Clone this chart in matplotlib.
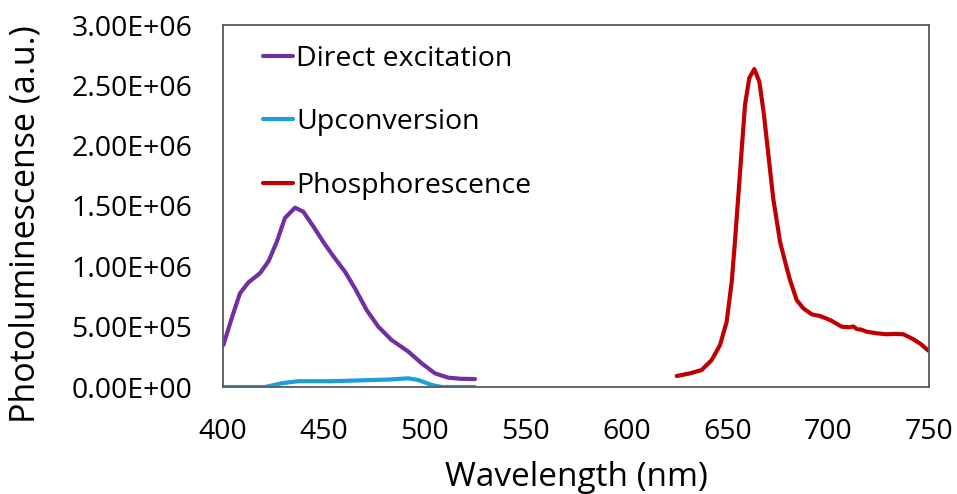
import matplotlib
matplotlib.use("Agg")
import matplotlib.pyplot as plt

plt.rcParams['font.family'] = ['Open Sans', 'DejaVu Sans']

direct_wl = [400.2, 404.3, 408.4, 412.6, 418.3, 422.5, 426.6, 430.7, 435.7, 439.8, 444.8, 450.6, 455.5, 460.5,
             465.4, 471.2, 477, 483.6, 491.9, 498.5, 505.1, 511.7, 518, 524.9]
direct_pl = [3.48e5, 5.69e5, 7.76e5, 8.67e5, 9.42e5, 1.04e6, 1.20e6, 1.40e6, 1.486e6, 1.453e6, 1.33e6, 1.18e6,
             1.066e6, 9.55e5, 8.18e5, 6.38e5, 5.0e5, 3.89e5, 2.93e5, 1.96e5, 1.13e5, 7.7e4, 6.8e4, 6.6e4]

up_wl = [400, 420.8, 429.1, 437.3, 453.9, 470.4, 482, 491.9, 496.8, 503.5, 508.4, 524.9]
up_pl = [0, 0, 3.1e4, 4.8e4, 4.8e4, 5.6e4, 6.2e4, 7.2e4, 5.8e4, 1.7e4, 0, 0]

phos_wl = [624.9, 631.5, 637.3, 642.3, 646.4, 649.7, 652.2, 653.8, 655.5, 657.2, 658.8, 660.9, 663.4, 665.9,
           668.2, 670.4, 672.8, 676.2, 679.5, 681.1, 684.4, 687.7, 691.9, 696, 701, 706.7, 710.5, 712.5,
           714.2, 716.5, 719.1, 724.1, 729, 733, 737.3, 742.3, 746, 749.7]
phos_pl = [9.1e4, 1.13e5, 1.41e5, 2.24e5, 3.48e5, 5.41e5, 8.73e5, 1.204e6, 1.59e6, 1.98e6, 2.34e6, 2.56e6,
           2.635e6, 2.53e6, 2.254e6, 1.92e6, 1.56e6, 1.20e6, 9.84e5, 8.87e5, 7.21e5, 6.52e5, 6.02e5, 5.88e5,
           5.55e5, 5.0e5, 4.95e5, 5.02e5, 4.8e5, 4.75e5, 4.58e5, 4.45e5, 4.37e5, 4.4e5, 4.37e5, 3.95e5,
           3.55e5, 3.01e5]

labels = ['Direct excitation', 'Upconversion', 'Phosphorescence']
colors = ['#7030A0', '#1C9FDC', '#C00000']
xticks = [400, 450, 500, 550, 600, 650, 700, 750]
yticks = [0, 5e5, 1e6, 1.5e6, 2e6, 2.5e6, 3e6]
ytick_labels = ['0.00E+00', '5.00E+05', '1.00E+06', '1.50E+06', '2.00E+06', '2.50E+06', '3.00E+06']

fig = plt.figure(figsize=(9.57, 4.94), dpi=100)
ax = fig.add_axes([223/957, 1-387/494, (929-223)/957, (387-25)/494])

for wl, pl, lab, c in zip([direct_wl, up_wl, phos_wl], [direct_pl, up_pl, phos_pl], labels, colors):
    ax.plot(wl, pl, color=c, lw=3, label=lab, solid_capstyle='round', solid_joinstyle='round')

ax.set_xlim(400, 750)
ax.set_ylim(0, 3e6)
ax.set_xticks(xticks)
ax.set_xticklabels([str(t) for t in xticks])
ax.set_yticks(yticks)
ax.set_yticklabels(ytick_labels)
ax.tick_params(length=0, labelsize=20.5, colors='black')
ax.tick_params(axis='y', pad=22)
ax.tick_params(axis='x', pad=22)
for s in ax.spines.values():
    s.set_color('#595959')
    s.set_linewidth(1.3)
ax.set_xlabel('Wavelength (nm)', fontsize=24, labelpad=11)
ax.set_ylabel('Photoluminescense (a.u.)', fontsize=24.5)
ax.yaxis.set_label_coords(-0.255, 0.45)

leg = ax.legend(loc='upper left', frameon=False, fontsize=20.5, handlelength=1.05,
                handletextpad=0.12, labelspacing=1.24, borderpad=0, borderaxespad=0,
                bbox_to_anchor=((263-223)/706, 0.945))
for h in leg.get_lines():
    h.set_linewidth(3)

fig.savefig('out.png', dpi=100)
